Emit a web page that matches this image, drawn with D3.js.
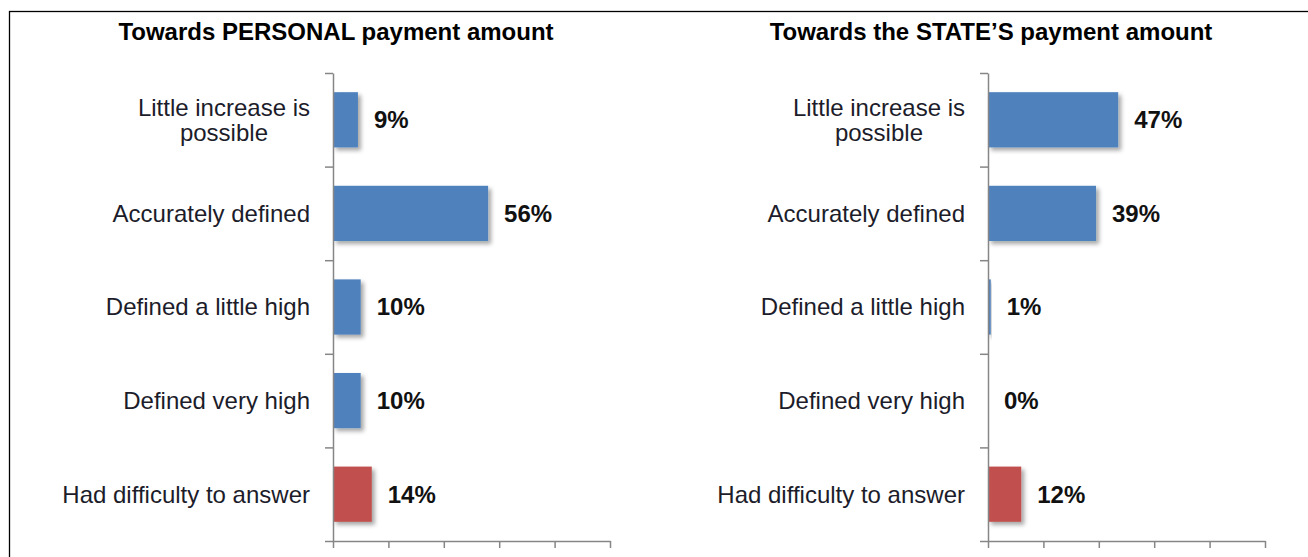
<!DOCTYPE html>
<html>
<head>
<meta charset="utf-8">
<script src="https://cdn.jsdelivr.net/npm/d3@7"></script>
<style>
  html, body { margin: 0; padding: 0; background: #fff; }
  svg { display: block; }
</style>
</head>
<body>
<svg id="chart" width="1308" height="557"></svg>
<script>
// Survey answers: attitude towards the payment amount
const categories = [
  "Little increase is\npossible",
  "Accurately defined",
  "Defined a little high",
  "Defined very high",
  "Had difficulty to answer"
];
const personalValues = [9, 56, 10, 10, 14];
const stateValues = [47, 39, 1, 0, 12];
const xTicks = [0, 20, 40, 60, 80, 100];
const panelTitles = ["Towards PERSONAL payment amount", "Towards the STATE\u2019S payment amount"];

const W = 1308, H = 557;
const svg = d3.select("#chart");
const FONT = "'Liberation Sans', Arial, sans-serif";
const BLUE = "#4F81BD", RED = "#C0504D", AXIS = "#868686";

// soft drop shadow under bars
const defs = svg.append("defs");
const f = defs.append("filter").attr("id", "shadow")
  .attr("x", "-20%").attr("y", "-20%").attr("width", "150%").attr("height", "150%");
f.append("feDropShadow").attr("dx", 3).attr("dy", 3).attr("stdDeviation", 2)
  .attr("flood-color", "#000").attr("flood-opacity", 0.35);

// outer frame
svg.append("rect").attr("x", 9.5).attr("y", 11.5).attr("width", W).attr("height", H)
  .attr("fill", "none").attr("stroke", "#000").attr("stroke-width", 1.3);

const panels = [
  { title: panelTitles[0], values: personalValues, x0: 333 },
  { title: panelTitles[1], values: stateValues, x0: 988 }
];

panels.forEach(p => {
  const g = svg.append("g");
  const x = d3.scaleLinear().domain([0, 100]).range([p.x0, p.x0 + 277]);
  const y = d3.scaleBand().domain(categories).range([73, 541]).paddingInner(0.41).paddingOuter(0.205);
  const step = y.step();

  // title
  g.append("text")
    .attr("x", p.x0 + 3).attr("y", 40)
    .attr("text-anchor", "middle")
    .attr("font-family", FONT).attr("font-weight", "bold").attr("font-size", 24)
    .attr("fill", "#000")
    .text(p.title);

  // bars
  g.selectAll("rect.bar").data(categories).join("rect")
    .attr("class", "bar")
    .attr("x", x(0))
    .attr("y", d => y(d))
    .attr("width", (d, i) => x(p.values[i]) - x(0))
    .attr("height", y.bandwidth())
    .attr("fill", (d, i) => i === categories.length - 1 ? RED : BLUE)
    .attr("filter", "url(#shadow)");

  // value labels
  g.selectAll("text.val").data(categories).join("text")
    .attr("class", "val")
    .attr("x", (d, i) => x(p.values[i]) + 16)
    .attr("y", d => y(d) + y.bandwidth() / 2)
    .attr("dy", "0.35em")
    .attr("font-family", FONT).attr("font-weight", "bold").attr("font-size", 24)
    .attr("fill", "#111")
    .text((d, i) => p.values[i] + "%");

  // category labels: lines centred within a right-aligned block
  const rightEdge = p.x0 - 23;
  const lineH = 25;
  categories.forEach(c => {
    const lines = c.split("\n");
    const cy = y(c) + y.bandwidth() / 2;
    const t = g.append("text")
      .attr("font-family", FONT).attr("font-size", 24)
      .attr("fill", "#1c1c2a")
      .attr("text-anchor", "middle");
    const spans = lines.map((ln, k) => t.append("tspan")
      .attr("y", cy + 8.4 + (k - (lines.length - 1) / 2) * lineH)
      .text(ln));
    const maxW = d3.max(spans, s => s.node().getComputedTextLength());
    spans.forEach(s => s.attr("x", rightEdge - maxW / 2));
  });

  // y axis: line with ticks at category boundaries
  const yAxisScale = d3.scaleLinear().domain([0, categories.length]).range([73, 541]);
  g.append("g")
    .attr("transform", `translate(${p.x0},0)`)
    .call(d3.axisLeft(yAxisScale).tickValues(d3.range(categories.length + 1))
      .tickSize(8).tickSizeOuter(0).tickFormat(""))
    .call(a => a.selectAll("line,path").attr("stroke", AXIS).attr("stroke-width", 1.5));

  // x axis without labels
  g.append("g")
    .attr("transform", "translate(0,541)")
    .call(d3.axisBottom(x).tickValues(xTicks).tickSize(7).tickSizeOuter(0).tickFormat(""))
    .call(a => a.selectAll("line,path").attr("stroke", AXIS).attr("stroke-width", 1.5));
});
</script>
</body>
</html>
